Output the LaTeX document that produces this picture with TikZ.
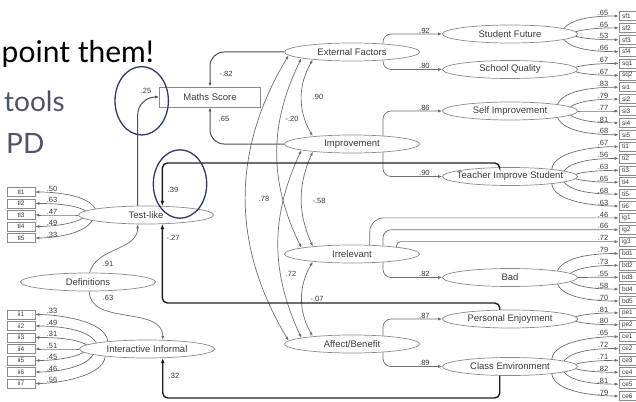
\documentclass[tikz,border=0pt]{standalone}
\usepackage{fontspec}
\setmainfont{Liberation Sans}
\newfontfamily\slidefont{Lato}
\usetikzlibrary{arrows.meta, shapes.geometric}

\definecolor{linegray}{HTML}{6E6E6E}
\definecolor{shapegray}{HTML}{8A8A8A}
\definecolor{textgray}{HTML}{3A3A3A}
\definecolor{heavyline}{HTML}{1E1E1E}
\definecolor{midline}{HTML}{505050}
\definecolor{slategray}{HTML}{4E5467}
\definecolor{markblue}{HTML}{2E3A6C}

\tikzset{
  >={Latex[length=4pt, width=3pt]},
  latent/.style={ellipse, draw=shapegray, line width=0.7pt, minimum width=135pt,
    minimum height=18pt, inner xsep=-25pt, inner ysep=0pt, text=textgray,
    font=\fontsize{9.5}{10}\selectfont},
  obsbox/.style={rectangle, draw=shapegray, line width=0.6pt, minimum width=28pt,
    minimum height=9pt, inner sep=0pt, text=textgray, font=\fontsize{6.5}{7}\selectfont},
  rightbox/.style={obsbox, text width=22pt, align=left, inner xsep=3pt},
  scorebox/.style={rectangle, draw=shapegray, line width=0.7pt, minimum width=101pt,
    minimum height=20pt, text=textgray, font=\fontsize{9.5}{10}\selectfont},
  coef/.style={inner sep=0.5pt, text=textgray, font=\fontsize{7.5}{8}\selectfont},
  load/.style={coef, anchor=south},
  link/.style={draw=linegray, line width=0.7pt, ->},
  corr/.style={draw=linegray, line width=0.7pt, <->},
  bold link/.style={draw=heavyline, line width=1.4pt, rounded corners=5pt,
    -{Latex[length=5pt, width=4pt]}},
  mid link/.style={draw=midline, line width=1pt, rounded corners=14pt, ->},
  ring/.style={draw=markblue, line width=1.3pt},
  slide/.style={font=\slidefont\fontsize{28}{32}\selectfont, inner sep=0pt}
}

% indicator rows on the right: y = 16 + 11.875*row
\newcommand{\rightitems}[4]{%
  \foreach \nm/\ld [count=\rw from #3] in {#4}{
    \pgfmathsetmacro\itemy{16+11.875*\rw}
    \pgfmathsetmacro\itemd{\itemy-#2}
    \pgfmathsetmacro\itemang{-0.36*\itemd}
    \pgfmathsetmacro\itemout{max(-85,min(85,-2.8*\itemd))}
    \node[rightbox] (\nm) at (633,\itemy) {\nm};
    \draw[link] (#1.\itemang) to[out=\itemout, in=180, looseness=0.7] (\nm.west);
    \node[load] at (603,\itemy) {\ld};
  }}

% indicator rows on the left
\newcommand{\leftitems}[5]{%
  \foreach \nm/\ld [count=\rw from 0] in {#5}{
    \pgfmathsetmacro\itemy{#3+#4*\rw}
    \pgfmathsetmacro\itemd{\itemy-#2}
    \pgfmathsetmacro\itemang{180+0.3*\itemd}
    \pgfmathsetmacro\itemout{180+max(-85,min(85,2.6*\itemd))}
    \node[obsbox] (\nm) at (21,\itemy) {\nm};
    \draw[link] (#1.\itemang) to[out=\itemout, in=0, looseness=0.7] (\nm.east);
    \node[load] at (52,\itemy) {\ld};
  }}

\begin{document}
\begin{tikzpicture}[x=1pt, y=-1pt]
  \clip (0,0) rectangle (636,401);

  % slide text behind the figure
  \node[slide, anchor=base east, font=\slidefont\fontsize{30}{34}\selectfont] (headline) at (154,63) {point them!};
  \node[slide, anchor=base west, text=slategray] (toolsline) at (4,111) {tools};
  \node[slide, anchor=base west, text=slategray] (pdline) at (6,153) {PD};

  % score and left factors
  \node[scorebox] (MS) at (210,97) {Maths Score};
  \node[latent] (TL) at (146,215) {Test-like};
  \node[latent] (DEF) at (88,282) {Definitions};
  \node[latent] (II) at (147,349) {Interactive Informal};

  % second order factors
  \node[latent] (EF) at (352,52) {External Factors};
  \node[latent] (IMP) at (352,144) {Improvement};
  \node[latent] (IRR) at (352,254) {Irrelevant};
  \node[latent] (AFF) at (352,344) {Affect/Benefit};

  % first order factors
  \node[latent] (SF) at (510,34) {Student Future};
  \node[latent] (SQ) at (510,69.5) {School Quality};
  \node[latent] (SI) at (510,111) {Self Improvement};
  \node[latent] (TIS) at (510,176.5) {Teacher Improve Student};
  \node[latent] (BAD) at (510,277.5) {Bad};
  \node[latent] (PE) at (510,319) {Personal Enjoyment};
  \node[latent] (CE) at (510,366.5) {Class Environment};

  % indicators
  \rightitems{SF}{34}{0}{sf1/.65, sf2/.65, sf3/.53, sf4/.66}
  \rightitems{SQ}{69.5}{4}{sq1/.67, sq2/.67}
  \rightitems{SI}{111}{6}{si1/.83, si2/.79, si3/.77, si4/.81, si5/.68}
  \rightitems{TIS}{176.5}{11}{ti1/.67, ti2/.56, ti3/.63, ti4/.65, ti5/.68, ti6/.63}
  \rightitems{BAD}{277.5}{20}{bd1/.79, bd2/.73, bd3/.55, bd4/.58, bd5/.70}
  \rightitems{PE}{319}{25}{pe1/.81, pe2/.80}
  \rightitems{CE}{366.5}{27}{ce1/.65, ce2/.72, ce3/.71, ce4/.82, ce5/.81, ce6/.79}
  \foreach \nm/\ld/\ang/\rad [count=\rw from 17] in {ig1/.46/27/14, ig2/.66/15/8, ig3/.72/9/4}{
    \pgfmathsetmacro\itemy{16+11.875*\rw}
    \node[rightbox] (\nm) at (633,\itemy) {\nm};
    \draw[link, rounded corners=\rad pt] (IRR.\ang) |- (\nm.west);
    \node[load] at (603,\itemy) {\ld};
  }
  \leftitems{TL}{215}{192}{11.5}{tl1/.50, tl2/.63, tl3/.47, tl4/.49, tl5/.33}
  \leftitems{II}{349}{314.5}{11.5}{ii1/.33, ii2/.49, ii3/.31, ii4/.51, ii5/.45, ii6/.46, ii7/.56}

  % second order to first order
  \draw[link, rounded corners=8pt] (EF.15) |- (SF.west) node[load, pos=0.85] {.92};
  \draw[link, rounded corners=8pt] (EF.-15) |- (SQ.west) node[load, pos=0.85] {.80};
  \draw[link, rounded corners=8pt] (IMP.15) |- (SI.west) node[load, pos=0.85] {.86};
  \draw[link, rounded corners=8pt] (IMP.-15) |- (TIS.west) node[load, pos=0.85] {.90};
  \draw[link, rounded corners=8pt] (IRR.-15) |- (BAD.west) node[load, pos=0.85] {.82};
  \draw[link, rounded corners=8pt] (AFF.15) |- (PE.west) node[load, pos=0.85] {.87};
  \draw[link, rounded corners=8pt] (AFF.-15) |- (CE.west) node[load, pos=0.85] {.89};

  % correlations
  \draw[corr] (EF.191) to[out=240, in=120] (IMP.169);
  \draw[corr] (EF.187) to[out=244, in=116] (IRR.173);
  \draw[corr] (EF.183) to[out=239, in=121] (AFF.177);
  \draw[corr] (IMP.191) to[out=246, in=114] (IRR.169);
  \draw[corr] (IMP.187) to[out=245, in=115] (AFF.173);
  \draw[corr] (IRR.191) to[out=240, in=120] (AFF.169);
  \node[coef] at (318,97) {.90};
  \node[coef] at (292,119) {-.20};
  \node[coef] at (264,199) {.78};
  \node[coef] at (319,201) {-.58};
  \node[coef] at (291,274) {.72};
  \node[coef] at (317,299) {-.07};

  % paths to the score
  \draw[mid link] (EF.west) -| (MS.north);
  \draw[mid link] (IMP.west) -| (MS.south);
  \draw[mid link, rounded corners=18pt] (TL.132) |- (MS.west);
  \node[coef] at (226,74) {-.82};
  \node[coef] at (224,119) {.65};
  \node[coef] at (146,91) {.25};

  % definitions
  \draw[link] (DEF.80) to[out=75, in=270] (TL.228);
  \draw[link] (DEF.-82) to[out=-90, in=90] (II.30);
  \node[coef] at (108,264) {.91};
  \node[coef] at (108,298) {.63};

  % long paths back to the left
  \coordinate (rowA) at (0,163);
  \coordinate (rowB) at (0,303);
  \coordinate (rowC) at (0,398);
  \draw[bold link] (TIS.138) |- (TL.29 |- rowA) -- (TL.29);
  \draw[bold link] (PE.138) |- (TL.-29 |- rowB) -- (TL.-29);
  \draw[bold link] (CE.222) |- (II.-30 |- rowC) -- (II.-30);
  \node[coef] at (173,190) {.39};
  \node[coef] at (173,238) {-.27};
  \node[coef] at (174,376) {.32};

  % hand drawn marks
  \draw[ring] (141.7,100.8) ellipse [x radius=26.7, y radius=34.2];
  \draw[ring] (180,184) ellipse [x radius=26.7, y radius=34.2];
\end{tikzpicture}
\end{document}
